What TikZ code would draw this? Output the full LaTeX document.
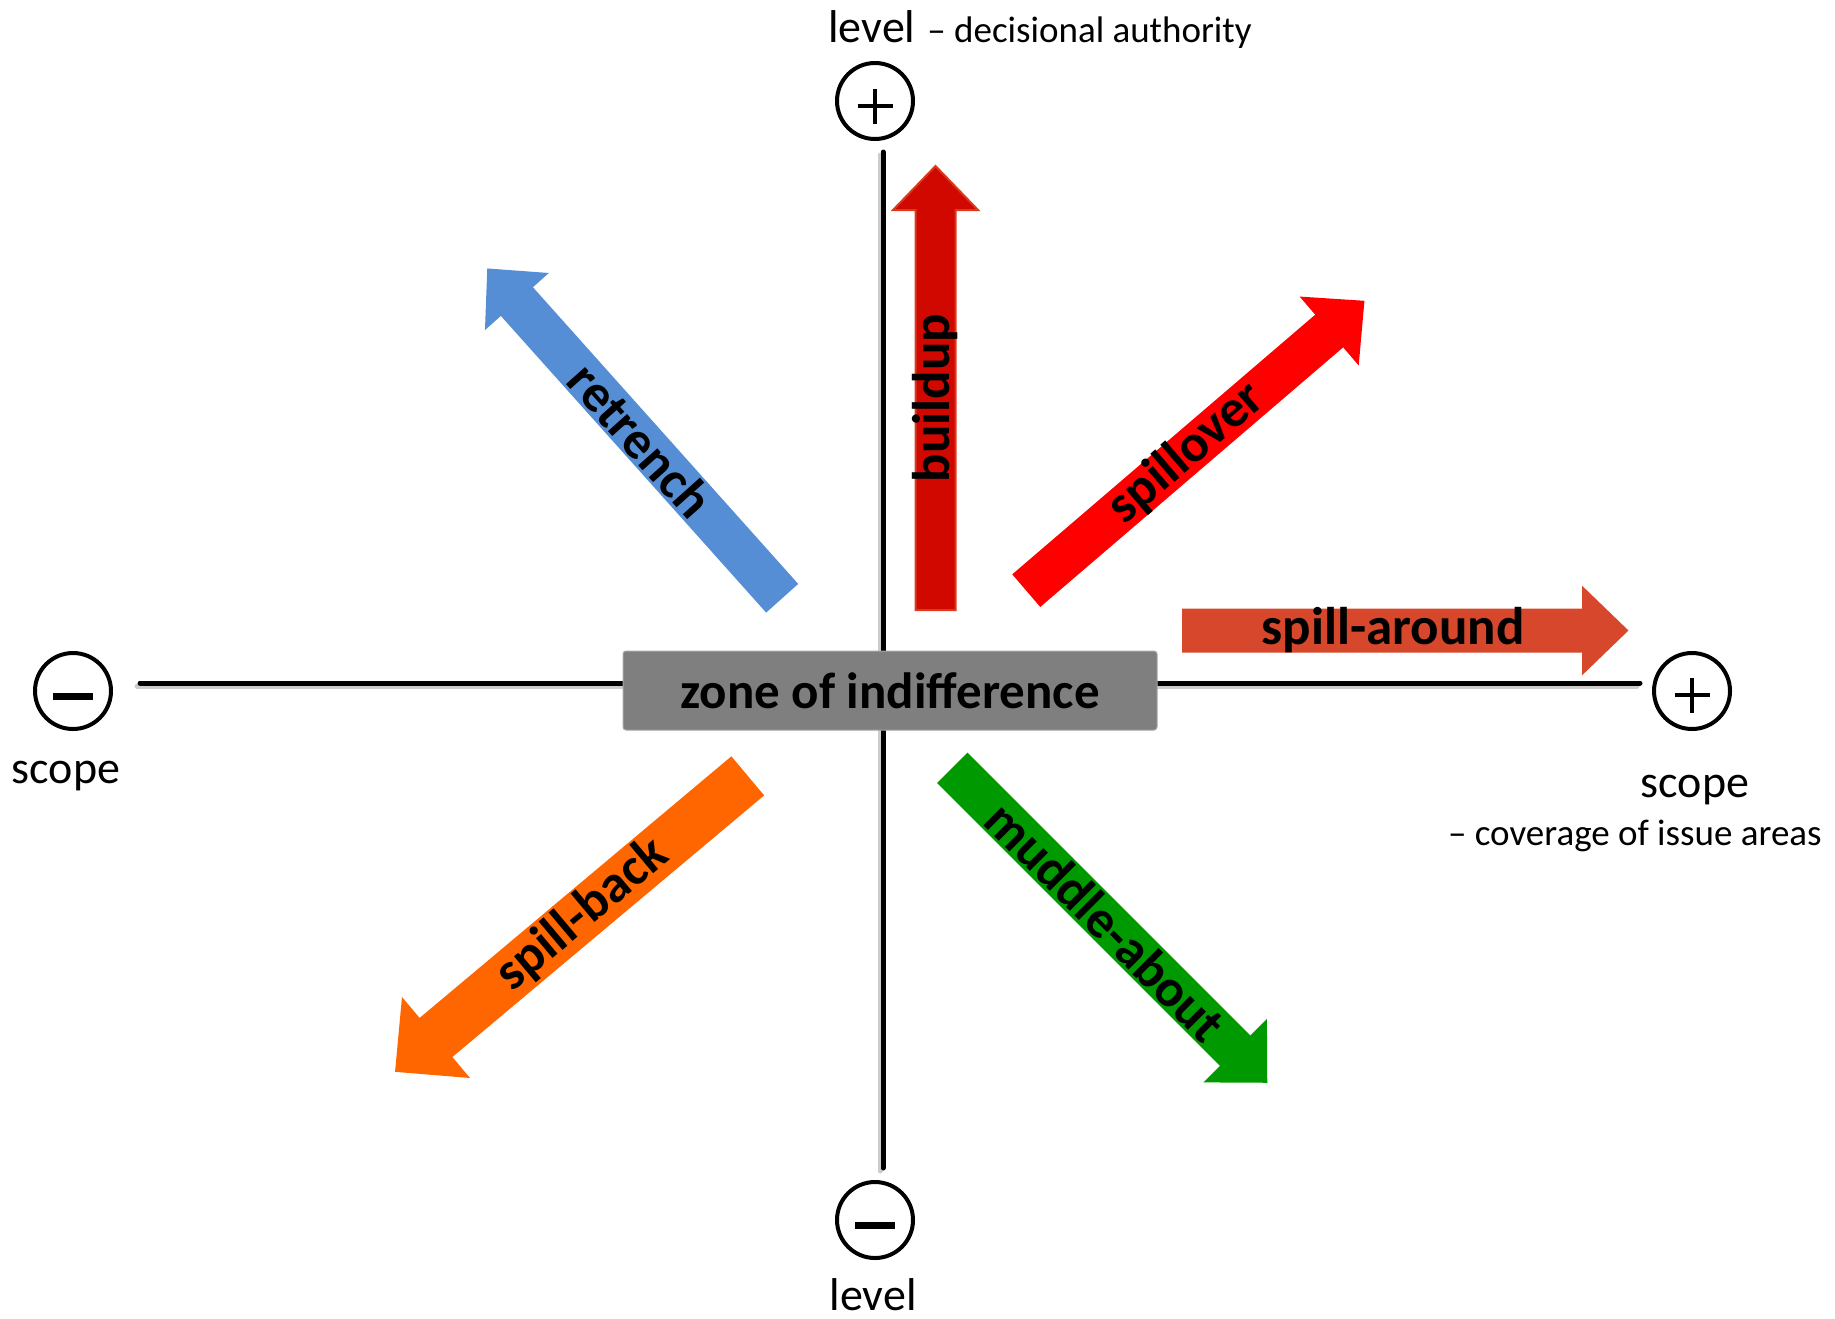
\documentclass[tikz,border=0pt]{standalone}
\usepackage{fontspec}
\setmainfont{Carlito}
\usepackage{xcolor}
\usepackage{tikz}
\definecolor{retrenchblue}{HTML}{558ED5}
\definecolor{buildred}{HTML}{D00800}
\definecolor{buildedge}{HTML}{DA3A1E}
\definecolor{spillred}{HTML}{FF0000}
\definecolor{aroundred}{HTML}{D6472B}
\definecolor{backorange}{HTML}{FF6600}
\definecolor{muddlegreen}{HTML}{009900}
\definecolor{zonegray}{HTML}{7F7F7F}
\definecolor{zoneedge}{HTML}{A6A6A6}

\begin{document}
\begin{tikzpicture}[x=0.5pt, y=-0.5pt,
  axis/.style={line width=2.5pt, line cap=round},
  axisshadow/.style={line width=2.5pt, line cap=round, black!20},
  sign/.style={circle, draw, line width=2pt, minimum size=38pt, inner sep=0pt},
  plusbar/.style={line width=2pt},
  minusbar/.style={line width=3.5pt},
  axislabel/.style={inner sep=0pt, font=\fontsize{23}{28}\selectfont},
  note/.style={inner sep=0pt, font=\fontsize{18.5}{22}\selectfont},
  arrowlabel/.style={inner sep=0pt, font=\bfseries\fontsize{26.5}{31}\selectfont},
  zone/.style={fill=zonegray, draw=zoneedge, line width=0.5pt, rounded corners=1.5pt,
    minimum width=267pt, minimum height=39.5pt, inner sep=0pt,
    font=\bfseries\fontsize{25.5}{30}\selectfont}]

\useasboundingbox (0,0) rectangle (1835,1318);

% axes
\coordinate (vtop) at (883,152);
\coordinate (vbot) at (883,1168);
\coordinate (hleft) at (140,683);
\coordinate (hright) at (1640,683);
\draw[axisshadow] ([shift={(-3,3)}]vtop) -- ([shift={(-3,3)}]vbot);
\draw[axisshadow] ([shift={(-3,3)}]hleft) -- ([shift={(-3,3)}]hright);
\draw[axis] (vtop) -- (vbot);
\draw[axis] (hleft) -- (hright);

% plus and minus ends
\node[sign] (levelplus) at (875,101) {};
\draw[plusbar] ([shift={(-17.5,5)}]levelplus.center) -- ([shift={(17.5,5)}]levelplus.center);
\draw[plusbar] ([shift={(0,-12.5)}]levelplus.center) -- ([shift={(0,22.5)}]levelplus.center);
\node[sign] (scopeplus) at (1692,691) {};
\draw[plusbar] ([shift={(-17.5,4)}]scopeplus.center) -- ([shift={(17.5,4)}]scopeplus.center);
\draw[plusbar] ([shift={(0,-13.5)}]scopeplus.center) -- ([shift={(0,21.5)}]scopeplus.center);
\node[sign] (levelminus) at (875,1220) {};
\draw[minusbar] ([shift={(-20,5)}]levelminus.center) -- ([shift={(20,5)}]levelminus.center);
\node[sign] (scopeminus) at (73,691) {};
\draw[minusbar] ([shift={(-20,5)}]scopeminus.center) -- ([shift={(20,5)}]scopeminus.center);

% axis labels
\node[axislabel, anchor=base west] (leveltop) at (828,42) {level};
\node[note, anchor=base west] (levelnote) at (927,42) {– decisional authority};
\node[axislabel, anchor=base] (levelbot) at (873,1310) {level};
\node[axislabel, anchor=base] (scopeleft) at (66,783) {scope};
\node[axislabel, anchor=base] (scoperight) at (1695,797) {scope};
\node[note, anchor=base east] (scopenote) at (1822,845) {– coverage of issue areas};

% centre box
\node[zone] (zone) at (890,690.5) {zone of indifference};

% block arrows: name/tail x/tail y/angle/length/half shaft/half head/head length/fill/edge/label pos/label angle
\foreach \nm/\tx/\ty/\ang/\len/\sw/\hw/\hl/\col/\edge/\s/\rot in {
  retrench/781.5/597.5/131.8/440/20.5/40.5/42/retrenchblue/retrenchblue/211/-48.2,
  buildup/935.5/610/90/444/20/42.5/44/buildred/buildedge/212/90,
  spillover/1027/590/40.6/443/20.5/43/44/spillred/spillred/210/40.6,
  spill-around/1183/630.5/0/444/21/42.5/44/aroundred/aroundred/210/0,
  spill-back/747/776.5/220/458/24.5/50.5/51/backorange/backorange/215/40,
  muddle-about/953/768.5/-45/443/20.5/42.5/43/muddlegreen/muddlegreen/216/-45}
{
  \begin{scope}[shift={(\tx,\ty)}, rotate=\ang]
    \filldraw[fill=\col, draw=\edge, line width=1pt]
      (0,-\sw) -- (\len-\hl,-\sw) -- (\len-\hl,-\hw) -- (\len,0)
      -- (\len-\hl,\hw) -- (\len-\hl,\sw) -- (0,\sw) -- cycle;
    \node[arrowlabel, rotate=\rot] (\nm) at (\s,0) {\nm};
  \end{scope}
}
\end{tikzpicture}
\end{document}
